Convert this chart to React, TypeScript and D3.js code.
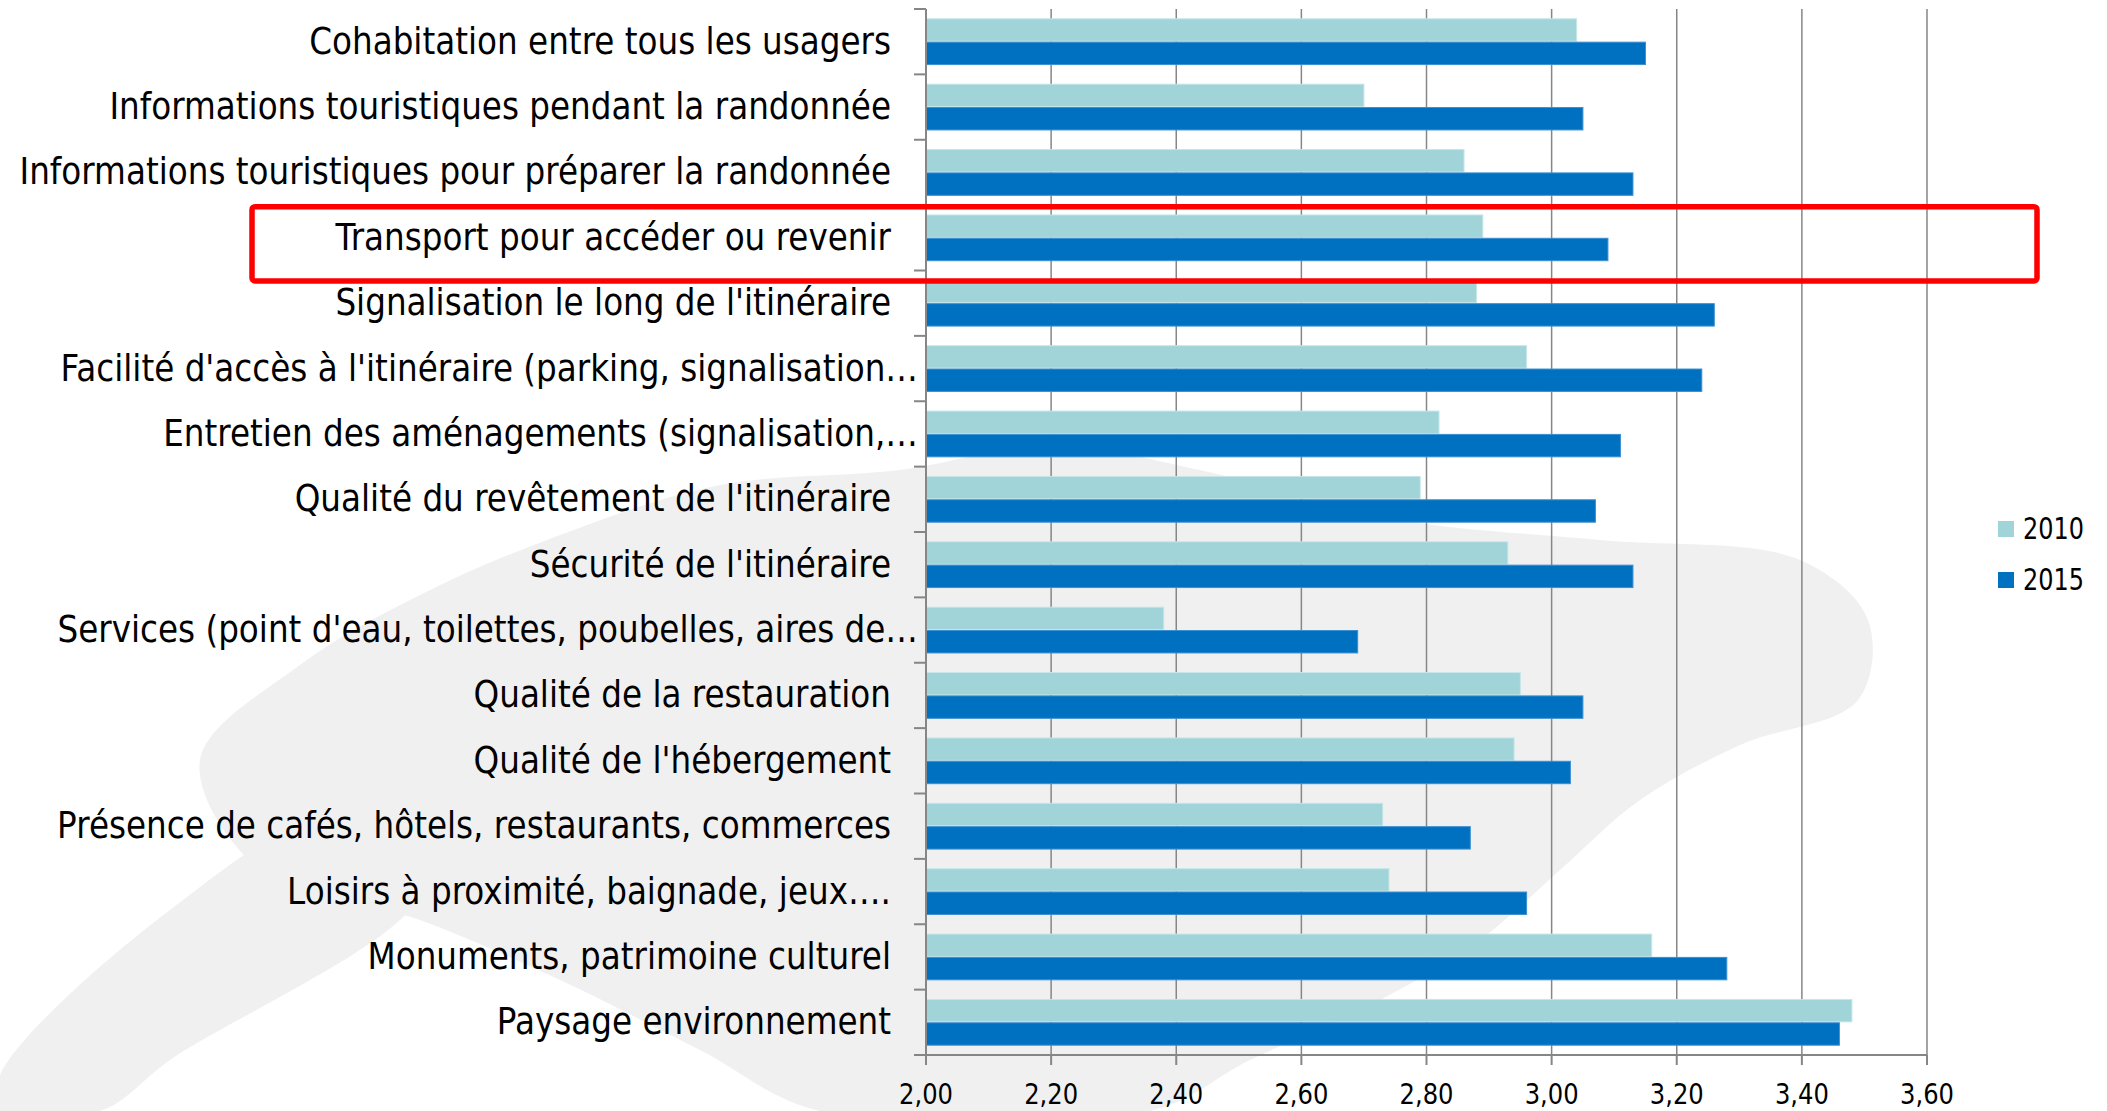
import React, { useMemo } from 'react';
import * as d3 from 'd3';

const categories = [
  'Cohabitation entre tous les usagers',
  'Informations touristiques pendant la randonnée',
  'Informations touristiques pour préparer la randonnée',
  'Transport pour accéder ou revenir',
  "Signalisation le long de l'itinéraire",
  "Facilité d'accès à l'itinéraire (parking, signalisation…",
  'Entretien des aménagements (signalisation,…',
  "Qualité du revêtement de l'itinéraire",
  "Sécurité de l'itinéraire",
  "Services (point d'eau, toilettes, poubelles, aires de…",
  'Qualité de la restauration',
  "Qualité de l'hébergement",
  'Présence de cafés, hôtels, restaurants, commerces',
  'Loisirs à proximité, baignade, jeux….',
  'Monuments, patrimoine culturel',
  'Paysage environnement',
];

const values2010 = [3.04, 2.7, 2.86, 2.89, 2.88, 2.96, 2.82, 2.79, 2.93, 2.38, 2.95, 2.94, 2.73, 2.74, 3.16, 3.48];
const values2015 = [3.15, 3.05, 3.13, 3.09, 3.26, 3.24, 3.11, 3.07, 3.13, 2.69, 3.05, 3.03, 2.87, 2.96, 3.28, 3.46];

const seriesNames = ['2010', '2015'];
const seriesColors = ['#a0d4d8', '#0070c0'];
const seriesStrokes = ['#c6e6e8', '#3d8fd0'];

const xTicks = [2.0, 2.2, 2.4, 2.6, 2.8, 3.0, 3.2, 3.4, 3.6];
const highlighted = 'Transport pour accéder ou revenir';

// pale tree silhouette behind the chart (canopy + trunk)
const canopyOutline: [number, number][] = [
  [200, 760], [300, 665], [420, 595], [560, 535], [720, 485], [900, 470], [1050, 445],
  [1200, 470], [1400, 520], [1600, 540], [1800, 560], [1868, 620], [1858, 700],
  [1740, 745], [1640, 800], [1560, 870], [1480, 940], [1380, 1000], [1250, 1060],
  [1150, 1111], [820, 1111], [700, 1050], [560, 980], [420, 920], [260, 870],
];
const trunkOutline: [number, number][] = [
  [0, 1111], [0, 1075], [170, 910], [330, 820], [420, 890], [170, 1060], [100, 1111],
];

const FONT = "'DejaVu Sans', Verdana, sans-serif";

function measure(text: string, size: number) {
  const ctx = document.createElement('canvas').getContext('2d');
  if (!ctx) return text.length * size * 0.55;
  ctx.font = `${size}px ${FONT}`;
  return ctx.measureText(text).width;
}

export default function App() {
  const width = 2107;
  const height = 1111;
  const margin = { top: 9, right: 180, bottom: 56, left: 926 };

  const x = d3.scaleLinear().domain([2, 3.6]).range([margin.left, width - margin.right]);
  const y = d3
    .scaleBand<string>()
    .domain(categories)
    .range([margin.top, height - margin.bottom])
    .paddingInner(0.3)
    .paddingOuter(0.15);
  const inner = d3.scaleBand<string>().domain(seriesNames).range([0, y.bandwidth()]).paddingInner(0.04);
  const step = y.step();
  const y0 = margin.top;
  const y1 = height - margin.bottom;

  const labelSize = 37;
  const tickSize = 27.5;
  const legendSize = 29.5;

  const scales = useMemo(() => {
    return {
      label: 582 / measure(categories[0], labelSize),
      tick: 54 / measure('2,00', tickSize),
      legend: 61 / measure('2010', legendSize),
    };
  }, []);

  const series = [values2010, values2015];
  const boundaries = d3.range(categories.length + 1).map((i) => y0 + i * step);
  const blob = d3.line().curve(d3.curveCatmullRomClosed.alpha(0.5));

  const hy = y(highlighted) as number;

  return (
    <svg width={width} height={height} style={{ display: 'block', position: 'absolute', left: 0, top: 0 }}>
      <rect width={width} height={height} fill="#ffffff" />
      <path d={blob(canopyOutline) || ''} fill="#f1f0f0" />
      <path d={blob(trunkOutline) || ''} fill="#f1f0f0" />

      {/* gridlines */}
      {xTicks.slice(1).map((t) => (
        <line key={`g${t}`} x1={x(t)} x2={x(t)} y1={y0} y2={y1} stroke="#868686" strokeWidth={1.5} />
      ))}

      {/* bars */}
      {categories.map((c, i) => (
        <g key={c} transform={`translate(0,${y(c)})`}>
          {seriesNames.map((s, k) => (
            <rect
              key={s}
              x={x(2)}
              y={inner(s)}
              width={x(series[k][i]) - x(2)}
              height={inner.bandwidth()}
              fill={seriesColors[k]}
              stroke={seriesStrokes[k]}
              strokeWidth={1}
            />
          ))}
        </g>
      ))}

      {/* axes */}
      <line x1={x(2)} x2={x(2)} y1={y0} y2={y1} stroke="#868686" strokeWidth={2} />
      <line x1={x(2) - 12} x2={x(3.6)} y1={y1} y2={y1} stroke="#868686" strokeWidth={2} />
      {boundaries.map((b, i) => (
        <line key={`ct${i}`} x1={x(2) - 12} x2={x(2)} y1={b} y2={b} stroke="#868686" strokeWidth={2} />
      ))}
      {xTicks.map((t) => (
        <line key={`xt${t}`} x1={x(t)} x2={x(t)} y1={y1} y2={y1 + 10} stroke="#868686" strokeWidth={2} />
      ))}
      {xTicks.map((t) => (
        <text
          key={`xl${t}`}
          transform={`translate(${x(t)},${y1 + 49}) scale(${scales.tick},1)`}
          textAnchor="middle"
          fontFamily={FONT}
          fontSize={tickSize}
          fill="#000"
        >
          {t.toFixed(2).replace('.', ',')}
        </text>
      ))}

      {/* category labels */}
      {categories.map((c) => {
        const truncated = c.endsWith('…');
        const lx = x(2) - (truncated ? 8 : 35);
        const ly = (y(c) as number) - step * 0.15 + step / 2 + 12;
        return (
          <text
            key={`l${c}`}
            transform={`translate(${lx},${ly}) scale(${scales.label},1)`}
            textAnchor="end"
            fontFamily={FONT}
            fontSize={labelSize}
            fill="#000"
          >
            {c}
          </text>
        );
      })}

      {/* legend */}
      {seriesNames.map((s, k) => (
        <g key={`lg${s}`} transform={`translate(1998,${521 + k * 51})`}>
          <rect width={16} height={16} fill={seriesColors[k]} />
          <text
            transform={`translate(25,18) scale(${scales.legend},1)`}
            fontFamily={FONT}
            fontSize={legendSize}
            fill="#000"
          >
            {s}
          </text>
        </g>
      ))}

      {/* highlight box */}
      <rect
        x={252}
        y={hy - step * 0.15 + 1.5}
        width={x(3.6) + 110 - 252}
        height={step + 9}
        rx={3}
        fill="none"
        stroke="#ff0000"
        strokeWidth={5.5}
      />
    </svg>
  );
}
